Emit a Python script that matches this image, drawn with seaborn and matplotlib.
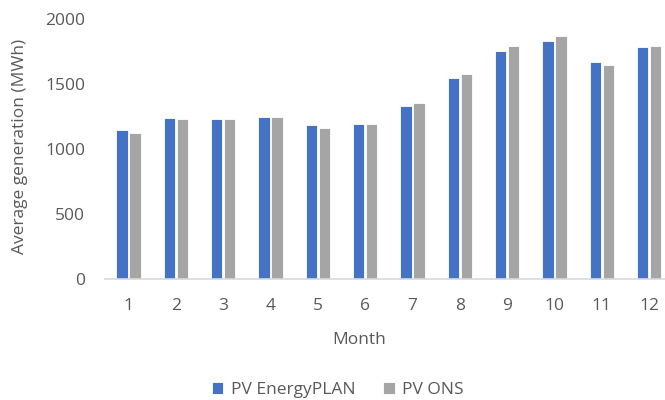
import matplotlib
matplotlib.use('Agg')
import matplotlib.pyplot as plt
import pandas as pd
import seaborn as sns

months = [1, 2, 3, 4, 5, 6, 7, 8, 9, 10, 11, 12]
pv_energyplan = [1144, 1238, 1228, 1248, 1185, 1195, 1333, 1544, 1751, 1828, 1669, 1785]
pv_ons = [1123, 1228, 1228, 1248, 1164, 1195, 1351, 1575, 1795, 1869, 1649, 1795]
series = ['PV EnergyPLAN', 'PV ONS']

df = pd.DataFrame({
    'Month': months * 2,
    'value': pv_energyplan + pv_ons,
    'series': [series[0]] * 12 + [series[1]] * 12,
})

sns.set_style('white')
plt.rcParams['font.family'] = ['Open Sans', 'DejaVu Sans']
txt = '#595959'

fig = plt.figure(figsize=(6.65, 4), dpi=100)
ax = fig.add_axes([0.1576, 0.3025, 0.8541, 0.65])
sns.barplot(data=df, x='Month', y='value', hue='series', palette=['#4472C4', '#A5A5A5'],
            saturation=1, width=0.55, gap=0.12, edgecolor='white', linewidth=0.6,
            ax=ax, legend=True)

ax.set_ylim(0, 2000)
ax.set_yticks([0, 500, 1000, 1500, 2000])
ax.tick_params(axis='both', length=0, labelsize=12.5, colors=txt)
ax.tick_params(axis='y', pad=14)
ax.tick_params(axis='x', pad=14)
for s in ['top', 'right', 'left']:
    ax.spines[s].set_visible(False)
ax.spines['bottom'].set_color('#D9D9D9')
ax.spines['bottom'].set_linewidth(1.2)

ax.set_ylabel('Average generation (MWh)', fontsize=12.5, color=txt)
ax.set_xlabel('Month', fontsize=12.5, color=txt)
ax.yaxis.set_label_coords(-0.136, 0.508)
ax.xaxis.set_label_coords(0.447, -0.205)

handles, labels = ax.get_legend_handles_labels()
ax.get_legend().remove()
fig.legend(handles, labels, loc='center', bbox_to_anchor=(338 / 665, 1 - 390 / 400), ncol=2,
           frameon=False, fontsize=12.5, labelcolor=txt, handlelength=0.65, handleheight=0.65,
           handletextpad=0.45, columnspacing=1.6)

fig.savefig('out.png', dpi=100)
